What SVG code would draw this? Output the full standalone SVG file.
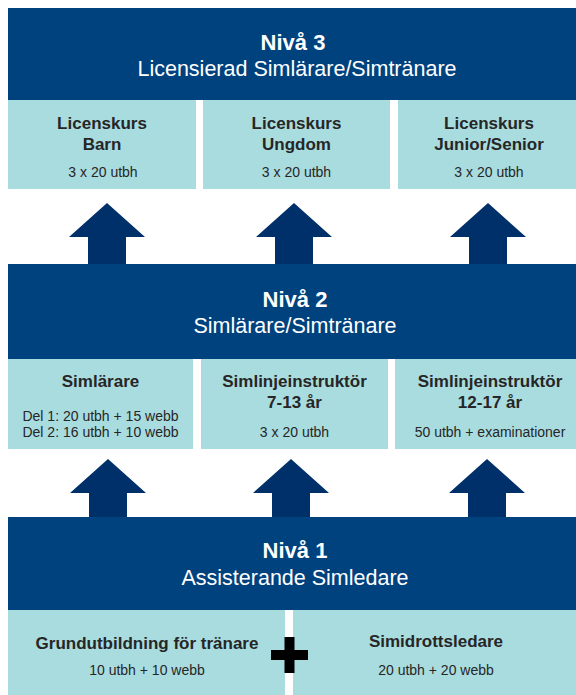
<svg xmlns="http://www.w3.org/2000/svg" width="576" height="695" viewBox="0 0 576 695">
<style>
.banner{fill:#00427E}
.box{fill:#A9DCDF}
.arrow{fill:#00306A}
.t{font-family:"Liberation Sans",Arial,sans-serif;text-anchor:middle}
.h{fill:#ffffff;font-weight:bold;font-size:22px}
.s{fill:#ffffff;font-size:21.5px}
.b{fill:#262626;font-weight:bold;font-size:17px}
.d{fill:#262626;font-size:14px}
</style>
<rect width="576" height="695" fill="#ffffff"/>
<g id="connectors">
<polygon class="arrow" points="107,203 145,237 126,237 126,264 88,264 88,237 69,237"/>
<polygon class="arrow" points="294,203 332,237 313,237 313,264 275,264 275,237 256,237"/>
<polygon class="arrow" points="488,203 526,237 507,237 507,264 469,264 469,237 450,237"/>
<polygon class="arrow" points="108,459 146,493 127,493 127,517 89,517 89,493 70,493"/>
<polygon class="arrow" points="291,459 329,493 310,493 310,517 272,517 272,493 253,493"/>
<polygon class="arrow" points="487,459 525,493 506,493 506,517 468,517 468,493 449,493"/>
</g>
<g id="niva3">
<rect class="banner" x="8" y="8" width="568" height="92"/>
<text class="t h" x="293" y="50">Nivå 3</text>
<text class="t s" x="297" y="76">Licensierad Simlärare/Simtränare</text>
</g>
<g id="licens-barn">
<rect class="box" x="8" y="100" width="188" height="89"/>
<text class="t b" x="102" y="129">Licenskurs</text>
<text class="t b" x="102" y="150">Barn</text>
<text class="t d" x="103" y="177">3 x 20 utbh</text>
</g>
<g id="licens-ungdom">
<rect class="box" x="203" y="100" width="187" height="89"/>
<text class="t b" x="296.5" y="129">Licenskurs</text>
<text class="t b" x="296.5" y="150">Ungdom</text>
<text class="t d" x="296.5" y="177">3 x 20 utbh</text>
</g>
<g id="licens-junior">
<rect class="box" x="398" y="100" width="178" height="89"/>
<text class="t b" x="489" y="129">Licenskurs</text>
<text class="t b" x="489" y="150">Junior/Senior</text>
<text class="t d" x="489" y="177">3 x 20 utbh</text>
</g>
<g id="niva2">
<rect class="banner" x="8" y="264" width="568" height="95"/>
<text class="t h" x="295" y="307">Nivå 2</text>
<text class="t s" x="295" y="333">Simlärare/Simtränare</text>
</g>
<g id="simlarare">
<rect class="box" x="8" y="359" width="185" height="90"/>
<text class="t b" x="100.5" y="387">Simlärare</text>
<text class="t d" x="100.5" y="421">Del 1: 20 utbh + 15 webb</text>
<text class="t d" x="100.5" y="437">Del 2: 16 utbh + 10 webb</text>
</g>
<g id="simlinje-7-13">
<rect class="box" x="201" y="359" width="187" height="90"/>
<text class="t b" x="294.5" y="387">Simlinjeinstruktör</text>
<text class="t b" x="294.5" y="408">7-13 år</text>
<text class="t d" x="294.5" y="437">3 x 20 utbh</text>
</g>
<g id="simlinje-12-17">
<rect class="box" x="395" y="359" width="181" height="90"/>
<text class="t b" x="490" y="387">Simlinjeinstruktör</text>
<text class="t b" x="490" y="408">12-17 år</text>
<text class="t d" x="490" y="437">50 utbh + examinationer</text>
</g>
<g id="niva1">
<rect class="banner" x="8" y="517" width="568" height="93"/>
<text class="t h" x="295" y="558">Nivå 1</text>
<text class="t s" x="295" y="585">Assisterande Simledare</text>
</g>
<g id="grundutbildning">
<rect class="box" x="8" y="610" width="277" height="85"/>
<text class="t b" x="147" y="649">Grundutbildning för tränare</text>
<text class="t d" x="147" y="675">10 utbh + 10 webb</text>
</g>
<g id="simidrottsledare">
<rect class="box" x="293" y="610" width="283" height="85"/>
<text class="t b" x="436" y="647">Simidrottsledare</text>
<text class="t d" x="436" y="675">20 utbh + 20 webb</text>
</g>
<g id="plus">
<rect x="271" y="650" width="37" height="10" fill="#000000"/>
<rect x="284.5" y="637" width="10" height="36" fill="#000000"/>
</g>
</svg>
